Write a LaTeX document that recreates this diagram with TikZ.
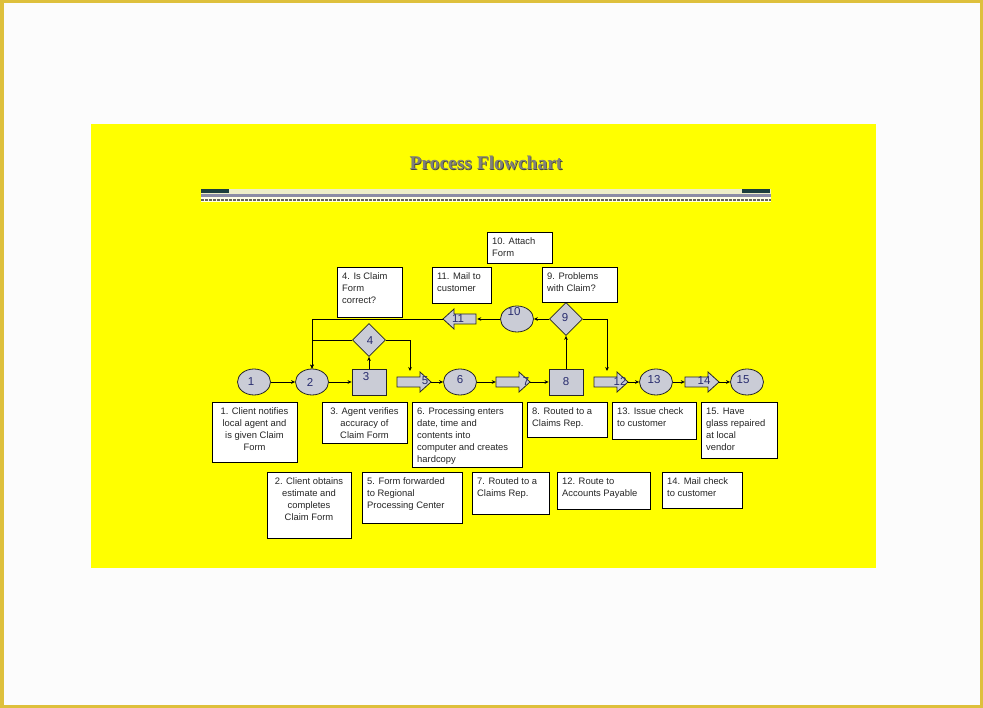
\documentclass[tikz,border=0pt]{standalone}
\usepackage{fontspec}
\setmainfont{Liberation Sans}
\newfontfamily\titlefont{Liberation Serif}
\usetikzlibrary{shapes.geometric,arrows.meta}
\definecolor{gold}{RGB}{222,192,60}
\definecolor{bgyellow}{RGB}{255,255,0}
\definecolor{shapefill}{RGB}{202,204,214}
\definecolor{digit}{RGB}{40,44,110}
\definecolor{darkteal}{RGB}{28,62,60}
\definecolor{barbeige}{RGB}{238,238,200}
\definecolor{barlav}{RGB}{140,140,165}
\definecolor{bardash}{RGB}{100,100,90}
\definecolor{titlegray}{RGB}{128,128,124}
\definecolor{titleshade}{RGB}{70,70,60}
\tikzset{
  shp/.style={draw=black!85, line width=0.8pt, fill=shapefill, inner sep=0pt},
  ell/.style={shp, ellipse, minimum width=33, minimum height=26},
  sq/.style={shp, rectangle, minimum width=34, minimum height=26},
  dia/.style={shp, diamond, minimum width=33, minimum height=33},
  ghost/.style={inner sep=0pt, minimum width=34, minimum height=20},
  dig/.style={inner sep=0pt, text=digit, font=\fontsize{11.5}{12}\selectfont},
  tb/.style={draw=black, line width=0.7pt, fill=white, inner sep=0pt},
  tt/.style={inner sep=0pt, text=black!85, font=\fontsize{9.4}{12}\selectfont},
  conn/.style={line width=0.7pt, -{Stealth[length=4pt,width=3.6pt]}},
}
\newcommand\rarrowshape[3]{%
  \node[ghost] (#1) at (#2,#3) {};
  \draw[shp] (#2-17,#3-5) -- (#2+6,#3-5) -- (#2+6,#3-10) -- (#2+17,#3) -- (#2+6,#3+10) -- (#2+6,#3+5) -- (#2-17,#3+5) -- cycle;
}
\newcommand\larrowshape[3]{%
  \node[ghost] (#1) at (#2,#3) {};
  \draw[shp] (#2+16,#3-5) -- (#2-6,#3-5) -- (#2-6,#3-10) -- (#2-17,#3) -- (#2-6,#3+10) -- (#2-6,#3+5) -- (#2+16,#3+5) -- cycle;
}
\newcommand\tboxl[6]{%
  \node[tb, anchor=north west, minimum width=#4-#2, minimum height=#5-#3] (#1) at (#2,#3) {};
  \node[tt, anchor=north west, align=left] (#1t) at (#2+5,#3+5.5) {#6};
}
\newcommand\tboxc[6]{%
  \node[tb, anchor=north west, minimum width=#4-#2, minimum height=#5-#3] (#1) at (#2,#3) {};
  \node[tt, anchor=north, align=center] (#1t) at ({(#2+#4)/2},#3+5.5) {#6};
}
\begin{document}
\begin{tikzpicture}[x=1pt,y=-1pt]
\useasboundingbox (0,0) rectangle (983,708);
% frame and background
\fill[gold] (0,0) rectangle (983,708);
\fill[white!99!black] (3.5,3.5) rectangle (979.5,704.5);
\fill[bgyellow] (91,124) rectangle (876,568);
% title
\node[inner sep=0pt, text=titleshade, font=\titlefont\bfseries\fontsize{19.5}{22}\selectfont] (titleshadow) at (486.8,163.8) {Process Flowchart};
\node[inner sep=0pt, text=titlegray, font=\titlefont\bfseries\fontsize{19.5}{22}\selectfont] (title) at (486,163) {Process Flowchart};
% bar under title
\fill[barbeige] (201,189.5) rectangle (771,194.5);
\fill[darkteal] (201,189.5) rectangle (229,193.5);
\fill[darkteal] (742,189.5) rectangle (770,193.5);
\fill[barlav] (201,194.5) rectangle (771,197);
\fill[white!90!yellow] (201,197) rectangle (771,202.5);
\draw[bardash, line width=2.5pt, dash pattern=on 3pt off 1pt] (201,200) -- (771,200);
% main shapes
\node[ell] (e1) at (254,382) {};
\node[ell] (e2) at (312,382) {};
\node[sq] (s3) at (369,382) {};
\node[dia] (d4) at (369,340) {};
\rarrowshape{a5}{414}{382}
\node[ell] (e6) at (460,382) {};
\rarrowshape{a7}{513}{382}
\node[sq] (s8) at (566,382) {};
\node[dia] (d9) at (566,319) {};
\node[ell] (e10) at (517,319) {};
\larrowshape{a11}{460}{319}
\rarrowshape{a12}{611}{382}
\node[ell] (e13) at (656,382) {};
\rarrowshape{a14}{702}{382}
\node[ell] (e15) at (747,382) {};
% digit labels
\node[dig] (l1) at (251,382) {1};
\node[dig] (l2) at (310,382) {2};
\node[dig] (l3) at (366,377) {3};
\node[dig] (l4) at (370,341) {4};
\node[dig] (l5) at (425,381) {5};
\node[dig] (l6) at (460,380) {6};
\node[dig] (l7) at (526,382) {7};
\node[dig] (l8) at (566,382) {8};
\node[dig] (l9) at (565,318) {9};
\node[dig] (l10) at (514,312) {10};
\node[dig] (l11) at (458,319) {11};
\node[dig] (l12) at (620,381) {12};
\node[dig] (l13) at (654,380) {13};
\node[dig] (l14) at (704,381) {14};
\node[dig] (l15) at (743,380) {15};
% text boxes
\tboxl{t10}{487}{232}{552}{263}{10. Attach\\Form}
\tboxl{t11}{432}{267}{491}{303}{11. Mail to\\customer}
\tboxl{t9}{542}{267}{617}{302}{9. Problems\\with Claim?}
\tboxl{t4}{337}{267}{402}{317}{4. Is Claim\\Form\\correct?}
\tboxc{t1}{212}{402}{297}{462}{1. Client notifies\\local agent and\\is given Claim\\Form}
\tboxc{t3}{322}{402}{407}{443}{3. Agent verifies\\accuracy of\\Claim Form}
\tboxl{t6}{412}{402}{522}{467}{6. Processing enters\\date, time and\\contents into\\computer and creates\\hardcopy}
\tboxl{t8}{527}{402}{607}{437}{8. Routed to a\\Claims Rep.}
\tboxl{t13}{612}{402}{696}{439}{13. Issue check\\to customer}
\tboxl{t15}{701}{402}{777}{458}{15. Have\\glass repaired\\at local\\vendor}
\tboxc{t2}{267}{472}{351}{538}{2. Client obtains\\estimate and\\completes\\Claim Form}
\tboxl{t5}{362}{472}{462}{523}{5. Form forwarded\\to Regional\\Processing Center}
\tboxl{t7}{472}{472}{549}{514}{7. Routed to a\\Claims Rep.}
\tboxl{t12}{557}{472}{650}{509}{12. Route to\\Accounts Payable}
\tboxl{t14}{662}{472}{742}{508}{14. Mail check\\to customer}
% connector end points
\coordinate (c5) at (410,371);
\coordinate (c12) at (607,371);
% connectors
\draw[conn] (e1) -- (e2);
\draw[conn] (e2) -- (s3);
\draw[conn] (s3) -- (d4);
\draw[conn] (d4.west) -| (e2.north);
\draw[conn] (a11.west) -| (e2.north);
\draw[conn] (d4.east) -| (c5);
\draw[conn] (a5.east) -- (e6);
\draw[conn] (e6) -- (a7.west);
\draw[conn] (a7.east) -- (s8);
\draw[conn] (s8) -- (d9);
\draw[conn] (d9) -- (e10);
\draw[conn] (e10) -- (a11.east);
\draw[conn] (d9.east) -| (c12);
\draw[conn] (a12.east) -- (e13);
\draw[conn] (e13) -- (a14.west);
\draw[conn] (a14.east) -- (e15);
\end{tikzpicture}
\end{document}
